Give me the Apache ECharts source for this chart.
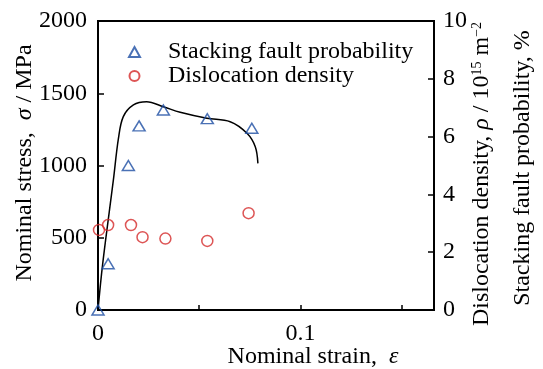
<!DOCTYPE html>
<html>
<head>
<meta charset="utf-8">
<script src="https://cdn.jsdelivr.net/npm/echarts@6/dist/echarts.min.js"></script>
<style>
  html, body { margin: 0; padding: 0; background: #fff; }
  #chart { width: 543px; height: 369px; }
</style>
</head>
<body>
<div id="chart"></div>
<script>
// nominal stress-strain curve (MPa)
const curveStrain = [0, 0.0023, 0.0076, 0.0101, 0.0125, 0.0175, 0.024, 0.0323, 0.0406, 0.0538, 0.0653, 0.0736, 0.0777, 0.079];
const curveStress = [0, 318, 900, 1188, 1338, 1419, 1441, 1407, 1368, 1327, 1303, 1223, 1130, 1015];

// stacking fault probability (%)
const sfStrain = [0, 0.005, 0.015, 0.0203, 0.0323, 0.054, 0.076];
const sfProb = [0, 1.6, 5.0, 6.37, 6.92, 6.62, 6.29];

// dislocation density (10^15 m^-2)
const ddStrain = [0.0005, 0.005, 0.0163, 0.022, 0.0333, 0.054, 0.0744];
const ddDensity = [2.77, 2.94, 2.94, 2.52, 2.47, 2.39, 3.35];

const serif = 'Liberation Serif';
const fs = 24;

const zip = (xs, ys) => xs.map((x, i) => [x, ys[i]]);

const chart = echarts.init(document.getElementById('chart'), null, { renderer: 'canvas' });

chart.setOption({
  backgroundColor: '#fff',
  animation: false,
  textStyle: { fontFamily: serif, color: '#000' },
  grid: {
    left: 98, right: 109, top: 21, bottom: 59,
    show: true, borderColor: '#000', borderWidth: 2, backgroundColor: 'transparent'
  },
  legend: {
    data: ['Stacking fault probability', 'Dislocation density'],
    orient: 'vertical',
    left: 128, top: 40, padding: 0,
    itemWidth: 11, itemHeight: 10, itemGap: 0,
    textStyle: { fontFamily: serif, fontSize: fs, color: '#000', padding: [0, 0, 0, 23], lineHeight: 23 }
  },
  xAxis: {
    type: 'value', min: 0, max: 0.166, interval: 0.05,
    splitLine: { show: false },
    axisLine: { lineStyle: { color: '#000', width: 2 } },
    axisTick: { inside: true, length: 5, lineStyle: { color: '#000', width: 1.5 } },
    axisLabel: {
      fontFamily: serif, fontSize: fs, color: '#000', margin: 12,
      showMaxLabel: false,
      formatter: v => (v === 0 ? '0' : Math.abs(v - 0.1) < 1e-9 ? '0.1' : '')
    }
  },
  yAxis: [
    {
      type: 'value', min: 0, max: 2000, interval: 500, position: 'left',
      splitLine: { show: false },
      axisLine: { show: true, lineStyle: { color: '#000', width: 2 } },
      axisTick: { show: true, inside: true, length: 6, lineStyle: { color: '#000', width: 1.5 } },
      axisLabel: { fontFamily: serif, fontSize: fs, color: '#000', margin: 11, formatter: v => String(v) }
    },
    {
      type: 'value', min: 0, max: 10, interval: 2, position: 'right',
      splitLine: { show: false },
      axisLine: { show: true, lineStyle: { color: '#000', width: 2 } },
      axisTick: { show: true, inside: true, length: 6, lineStyle: { color: '#000', width: 1.5 } },
      axisLabel: { fontFamily: serif, fontSize: fs, color: '#000', margin: 9 }
    }
  ],
  graphic: [
    {
      type: 'text', x: 25, y: 163, rotation: Math.PI / 2,
      style: {
        text: 'Nominal stress,  {i|σ} / MPa',
        font: fs + 'px "' + serif + '"', fill: '#000', align: 'center', verticalAlign: 'middle',
        rich: { i: { fontFamily: serif, fontStyle: 'italic', fontSize: fs } }
      }
    },
    {
      type: 'text', x: 482, y: 174, rotation: Math.PI / 2,
      style: {
        text: 'Dislocation density, {i|ρ} / 10{s|15} m{s|−2}',
        font: fs + 'px "' + serif + '"', fill: '#000', align: 'center', verticalAlign: 'middle',
        rich: {
          i: { fontFamily: serif, fontStyle: 'italic', fontSize: fs },
          s: { fontFamily: serif, fontSize: 14, padding: [0, 0, 10, 0] }
        }
      }
    },
    {
      type: 'text', x: 523, y: 168, rotation: Math.PI / 2,
      style: {
        text: 'Stacking fault probability, %',
        font: fs + 'px "' + serif + '"', fill: '#000', align: 'center', verticalAlign: 'middle'
      }
    },
    {
      type: 'text', x: 313, y: 357,
      style: {
        text: 'Nominal strain,  {i|ε}',
        font: fs + 'px "' + serif + '"', fill: '#000', align: 'center', verticalAlign: 'middle',
        rich: { i: { fontFamily: serif, fontStyle: 'italic', fontSize: fs } }
      }
    }
  ],
  series: [
    {
      name: 'Nominal stress',
      type: 'line',
      yAxisIndex: 0,
      data: zip(curveStrain, curveStress),
      smooth: 0.35,
      showSymbol: false,
      lineStyle: { color: '#000', width: 1.5 },
      z: 2
    },
    {
      name: 'Stacking fault probability',
      type: 'scatter',
      yAxisIndex: 1,
      data: zip(sfStrain, sfProb),
      symbol: 'triangle',
      symbolSize: [12, 10],
      itemStyle: { color: 'rgba(255,255,255,0)', borderColor: '#1d4ea3', borderWidth: 1.5 },
      z: 3
    },
    {
      name: 'Dislocation density',
      type: 'scatter',
      yAxisIndex: 1,
      data: zip(ddStrain, ddDensity),
      symbol: 'circle',
      symbolSize: 11,
      itemStyle: { color: 'rgba(255,255,255,0)', borderColor: '#d42a2a', borderWidth: 1.5 },
      z: 3
    }
  ]
});
</script>
</body>
</html>
